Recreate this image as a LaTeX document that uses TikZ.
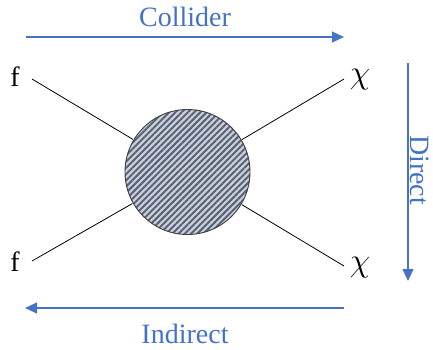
\documentclass[tikz,border=0pt]{standalone}
\usepackage{fontspec}
\setmainfont{Liberation Serif}
\usetikzlibrary{patterns.meta,arrows.meta}
\definecolor{blu}{HTML}{4472C4}
\definecolor{stripedark}{HTML}{56627A}
\definecolor{stripelight}{HTML}{CDD0D6}
\tikzset{
  lbl/.style={font=\fontsize{21}{25}\selectfont, inner sep=0pt},
  chilbl/.style={font=\fontsize{25}{29}\selectfont, inner sep=0pt},
  bluarrow/.style={draw=blu, line width=1.6pt, -{Triangle[length=9pt,width=8pt]}},
  leg/.style={draw=black, line width=0.6pt},
}
\begin{document}
\begin{tikzpicture}[x=0.75pt,y=-0.75pt]
\useasboundingbox (0,0) rectangle (433,350);
% blob
\node[circle, minimum size=125*0.75pt, inner sep=0pt, draw=black!75, line width=0.7pt,
      preaction={fill=stripelight},
      pattern={Lines[angle=45,distance=3.3pt,line width=1.5pt]}, pattern color=stripedark] (blob) at (187.5,172) {};
% external particles
\node[lbl] (f1) at (15,77) {f};
\node[lbl] (f2) at (15,262) {f};
\node[chilbl] (x1) at (360,80) {$\chi$};
\node[chilbl] (x2) at (360,268) {$\chi$};
\coordinate (a1) at (32,79);
\coordinate (a2) at (32,261);
\coordinate (b1) at (344,79);
\coordinate (b2) at (344,266);
\draw[leg] (a1) -- (blob);
\draw[leg] (a2) -- (blob);
\draw[leg] (b1) -- (blob);
\draw[leg] (b2) -- (blob);
% arrows
\coordinate (c1) at (26,37); \coordinate (c2) at (344,37);
\coordinate (d1) at (408,63); \coordinate (d2) at (408,281);
\coordinate (i1) at (344,308); \coordinate (i2) at (25,308);
\draw[bluarrow] (c1) -- (c2);
\draw[bluarrow] (d1) -- (d2);
\draw[bluarrow] (i1) -- (i2);
\node[lbl, text=blu] (col) at (185,17) {Collider};
\node[lbl, text=blu, rotate=-90] (dir) at (420,170) {Direct};
\node[lbl, text=blu] (ind) at (185,334) {Indirect};
\end{tikzpicture}
\end{document}
